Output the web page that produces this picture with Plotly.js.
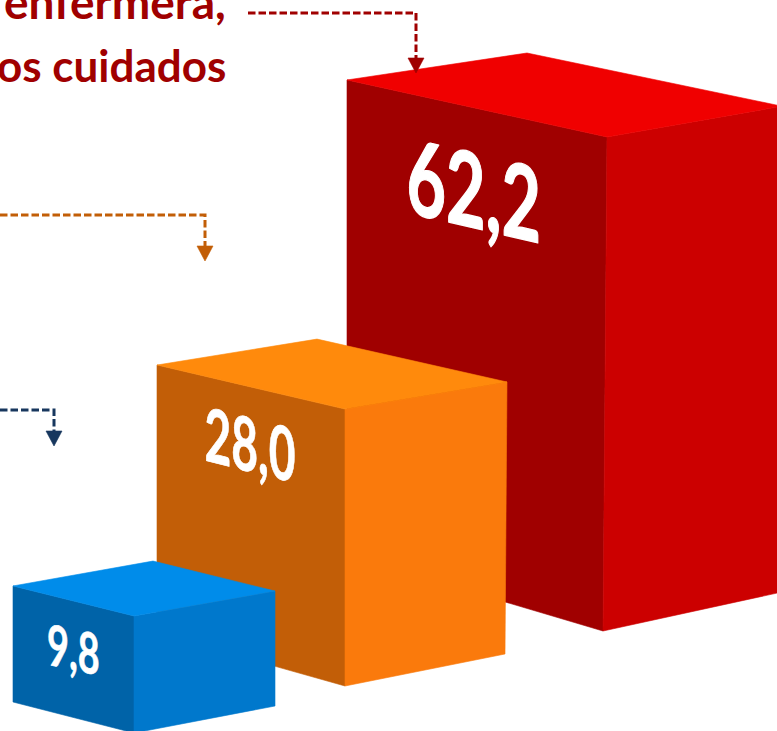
<!DOCTYPE html>
<html>
<head>
<meta charset="utf-8">
<script src="https://cdn.plot.ly/plotly-3.0.1.min.js"></script>
<style>html,body{margin:0;padding:0;background:#fff;overflow:hidden}#chart{width:777px;height:731px}</style>
</head>
<body>
<div id="chart"></div>
<script>
// Data
var categories = ['azul', 'naranja', 'rojo'];
var values = [9.8, 28.0, 62.2];
var captions = ['enfermera,', 'os cuidados'];

// Styles
var leftColors = ['#0063A8', '#C25E07', '#A00000'];
var rightColors = ['#0078CC', '#FA7A0C', '#CC0000'];
var topColors = ['#008CEA', '#FF8A0C', '#F00000'];
var arrowColors = ['#17375E', '#C25E07', '#A00000'];

// Projection of each box: where each corner of its base sits on the page,
// and how far that corner rises per unit of value (perspective differs per box).
var baseLeft = [[13,702],[157,633],[347,555]];
var baseFront = [[134,733],[345,686],[603,631]];
var baseRight = [[275,706],[505,654],[782,592]];
var baseBack = [[153,676],[317,609],[527,533]];
var riseLeft = [[0,11.84],[0,9.57],[0,7.637]];
var riseFront = [[0,11.94],[0,9.89],[0.0643,7.942]];
var riseRight = [[0,11.73],[0.071,9.714],[0,7.81]];
var riseBack = [[0,11.73],[0,9.64],[0,7.717]];

// Value label placement
var labelX = [73, 250, 474], labelY = [648, 443, 187];
var labelSkew = [12, 14, 13], labelSize = [54, 70, 96];
var labelSqueeze = [0.7, 0.66, 0.71], labelStretch = [1.05, 1.06, 1.08], labelStroke = [0.6, 0.7, 1.2];

// Connectors: path, then the arrow head below its last point
var connectorX = [[0,54,54],[0,205,205],[248,416,416]];
var connectorY = [[410,410,431],[215,215,246],[13,13,58]];

function corner(base, rise, v) { return [base[0] + rise[0]*v, base[1] - rise[1]*v]; }
function face(pts, color) {
  return {x: pts.map(function(p){return p[0];}).concat(pts[0][0]),
          y: pts.map(function(p){return p[1];}).concat(pts[0][1]),
          mode:'lines', fill:'toself', fillcolor:color,
          line:{color:color, width:0.6}, hoverinfo:'skip', showlegend:false};
}

var traces = [], annotations = [];
var drawOrder = [2, 1, 0];
drawOrder.forEach(function(i){
  var v = values[i];
  var tL = corner(baseLeft[i], riseLeft[i], v), tF = corner(baseFront[i], riseFront[i], v);
  var tR = corner(baseRight[i], riseRight[i], v), tB = corner(baseBack[i], riseBack[i], v);
  traces.push(face([baseLeft[i], baseFront[i], tF, tL], leftColors[i]));
  traces.push(face([baseFront[i], baseRight[i], tR, tF], rightColors[i]));
  traces.push(face([tL, tF, tR, tB], topColors[i]));
  annotations.push({x:labelX[i], y:labelY[i], xref:'x', yref:'y', showarrow:false,
    text:'<b>'+v.toFixed(1).replace('.',',')+'</b>',
    xanchor:'center', yanchor:'middle',
    font:{family:'Lato, "Open Sans", sans-serif', size:labelSize[i], color:'#FFFFFF'}});
});
connectorX.forEach(function(xs, i){
  var ys = connectorY[i];
  traces.push({x:xs, y:ys, mode:'lines', line:{color:arrowColors[i], width:3, dash:'7.5px,3px'},
    hoverinfo:'skip', showlegend:false});
  var tx = xs[xs.length-1], ty = ys[ys.length-1];
  traces.push(face([[tx-8,ty],[tx+8,ty],[tx,ty+15]], arrowColors[i]));
});
captions.forEach(function(t, i){
  annotations.push({x:228, y:[31,93][i], xref:'x', yref:'y', showarrow:false, text:'<b>'+t+'</b>',
    xanchor:'right', yanchor:'bottom', align:'right',
    font:{family:'Lato, "Open Sans", sans-serif', size:[46,44][i], color:'#A00000'}});
});

Plotly.newPlot('chart', traces, {
  width:777, height:731, margin:{l:0,r:0,t:0,b:0,pad:0},
  paper_bgcolor:'#fff', plot_bgcolor:'#fff', showlegend:false,
  xaxis:{range:[0,777], visible:false, fixedrange:true},
  yaxis:{range:[731,0], visible:false, fixedrange:true},
  annotations:annotations
}, {displayModeBar:false, staticPlot:true}).then(function(){
  // The value labels sit on the left face of each box: follow its perspective.
  var groups = document.querySelectorAll('.annotation .annotation-text-g');
  drawOrder.forEach(function(i, k){
    var g = groups[k], cx = labelX[i], cy = labelY[i];
    g.setAttribute('transform', 'translate('+cx+','+cy+') skewY('+labelSkew[i]+') scale('+labelSqueeze[i]+','+labelStretch[i]+') translate('+(-cx)+','+(-cy)+')');
    var t = g.querySelector('text');
    t.style.stroke = '#FFFFFF';
    t.style.strokeWidth = labelStroke[i] + 'px';
    t.style.strokeLinejoin = 'round';
  });
});
</script>
</body>
</html>
